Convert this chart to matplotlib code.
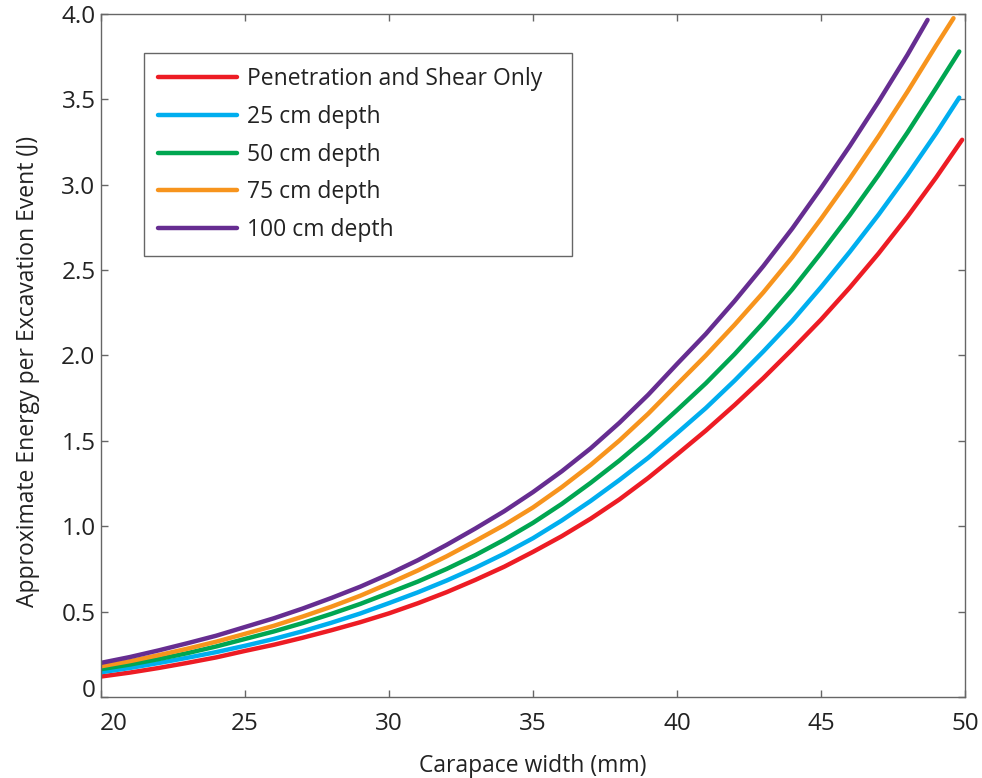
import matplotlib
matplotlib.use("Agg")
import matplotlib.pyplot as plt
import matplotlib.transforms as mtransforms

plt.rcParams['font.family'] = ['Open Sans', 'DejaVu Sans']

# Carapace width (mm), 1 mm steps
width_grid = [20, 21, 22, 23, 24, 25, 26, 27, 28, 29, 30, 31, 32, 33, 34, 35,
              36, 37, 38, 39, 40, 41, 42, 43, 44, 45, 46, 47, 48, 49]

# Energy per excavation event (J) for each scenario
shear_only_w = width_grid + [49.9]
shear_only_e = [0.120, 0.143, 0.170, 0.200, 0.232, 0.270, 0.306, 0.347, 0.391, 0.438,
                0.490, 0.549, 0.614, 0.686, 0.763, 0.850, 0.942, 1.044, 1.157, 1.283,
                1.420, 1.560, 1.710, 1.868, 2.036, 2.210, 2.398, 2.598, 2.813, 3.043,
                3.263]

depth25_w = width_grid + [49.8]
depth25_e = [0.145, 0.170, 0.199, 0.230, 0.263, 0.300, 0.340, 0.385, 0.435, 0.489,
             0.550, 0.613, 0.682, 0.757, 0.839, 0.930, 1.034, 1.148, 1.271, 1.401,
             1.545, 1.692, 1.853, 2.024, 2.203, 2.400, 2.607, 2.825, 3.057, 3.302,
             3.510]

depth50_w = width_grid + [49.8]
depth50_e = [0.163, 0.190, 0.222, 0.257, 0.296, 0.340, 0.384, 0.433, 0.487, 0.545,
             0.610, 0.676, 0.750, 0.831, 0.921, 1.020, 1.131, 1.254, 1.385, 1.527,
             1.680, 1.837, 2.008, 2.192, 2.387, 2.600, 2.822, 3.057, 3.305, 3.567,
             3.780]

depth75_w = width_grid + [49.6]
depth75_e = [0.180, 0.210, 0.245, 0.283, 0.324, 0.370, 0.417, 0.471, 0.529, 0.593,
             0.665, 0.741, 0.824, 0.914, 1.007, 1.110, 1.229, 1.359, 1.502, 1.659,
             1.830, 2.000, 2.180, 2.370, 2.575, 2.800, 3.036, 3.284, 3.544, 3.816,
             3.975]

depth100_w = width_grid[:-1] + [48.7]
depth100_e = [0.200, 0.234, 0.273, 0.315, 0.359, 0.410, 0.461, 0.518, 0.580, 0.646,
              0.720, 0.801, 0.891, 0.987, 1.088, 1.200, 1.322, 1.456, 1.606, 1.770,
              1.950, 2.126, 2.319, 2.524, 2.743, 2.980, 3.227, 3.487, 3.760, 3.965]

series_labels = ["Penetration and Shear Only", "25 cm depth", "50 cm depth",
                 "75 cm depth", "100 cm depth"]
series_colors = ["#ED1C24", "#00AEEF", "#00A651", "#F7941D", "#662D91"]

x_ticks = [20, 25, 30, 35, 40, 45, 50]
x_tick_labels = ["20", "25", "30", "35", "40", "45", "50"]
y_ticks = [0, 0.5, 1.0, 1.5, 2.0, 2.5, 3.0, 3.5, 4.0]
y_tick_labels = ["0", "0.5", "1.0", "1.5", "2.0", "2.5", "3.0", "3.5", "4.0"]

FS = 16.5
TICK_FS = 17.5
text_col = "#222222"
frame_col = "#666666"

fig = plt.figure(figsize=(9.82, 7.78), dpi=100)
ax = fig.add_axes([0.1029, 0.1041, 0.8798, 0.878])

series = [(shear_only_w, shear_only_e), (depth25_w, depth25_e), (depth50_w, depth50_e),
          (depth75_w, depth75_e), (depth100_w, depth100_e)]
for (w, e), lab, col in zip(series, series_labels, series_colors):
    ax.plot(w, e, color=col, lw=3.2, label=lab, solid_capstyle='round',
            solid_joinstyle='round')

ax.set_xlim(20, 50)
ax.set_ylim(0, 4.0)
ax.set_xticks(x_ticks)
ax.set_xticklabels(x_tick_labels)
ax.set_yticks(y_ticks)
ax.set_yticklabels(y_tick_labels)

for sp in ax.spines.values():
    sp.set_color(frame_col)
    sp.set_linewidth(1.0)
ax.tick_params(direction='in', length=5, width=1.0, color=frame_col,
               top=True, right=True, labelsize=TICK_FS, labelcolor=text_col)
ax.tick_params(axis='x', pad=11)
ax.tick_params(axis='y', pad=4)

# nudge the corner tick labels inward
lab20 = ax.get_xticklabels()[0]
lab20.set_transform(lab20.get_transform() + mtransforms.ScaledTranslation(13 / 100, 0, fig.dpi_scale_trans))
lab0 = ax.get_yticklabels()[0]
lab0.set_transform(lab0.get_transform() + mtransforms.ScaledTranslation(0, 9 / 100, fig.dpi_scale_trans))

ax.set_xlabel("Carapace width (mm)", fontsize=FS, color=text_col, labelpad=13)
ax.set_ylabel("Approximate Energy per Excavation Event (J)", fontsize=FS, color=text_col,
              labelpad=15)
ax.yaxis.label.set_y(0.477)

leg = ax.legend(loc='upper left', bbox_to_anchor=(0.0498, 0.5, 0.4954, 0.443),
                mode='expand', fontsize=FS,
                frameon=True, fancybox=False, edgecolor=frame_col, framealpha=1,
                handlelength=3.45, handletextpad=0.44, labelspacing=0.6,
                borderpad=0.62, borderaxespad=0)
leg.get_frame().set_linewidth(1.0)
for t in leg.get_texts():
    t.set_color(text_col)

fig.savefig("out.png", dpi=100)
